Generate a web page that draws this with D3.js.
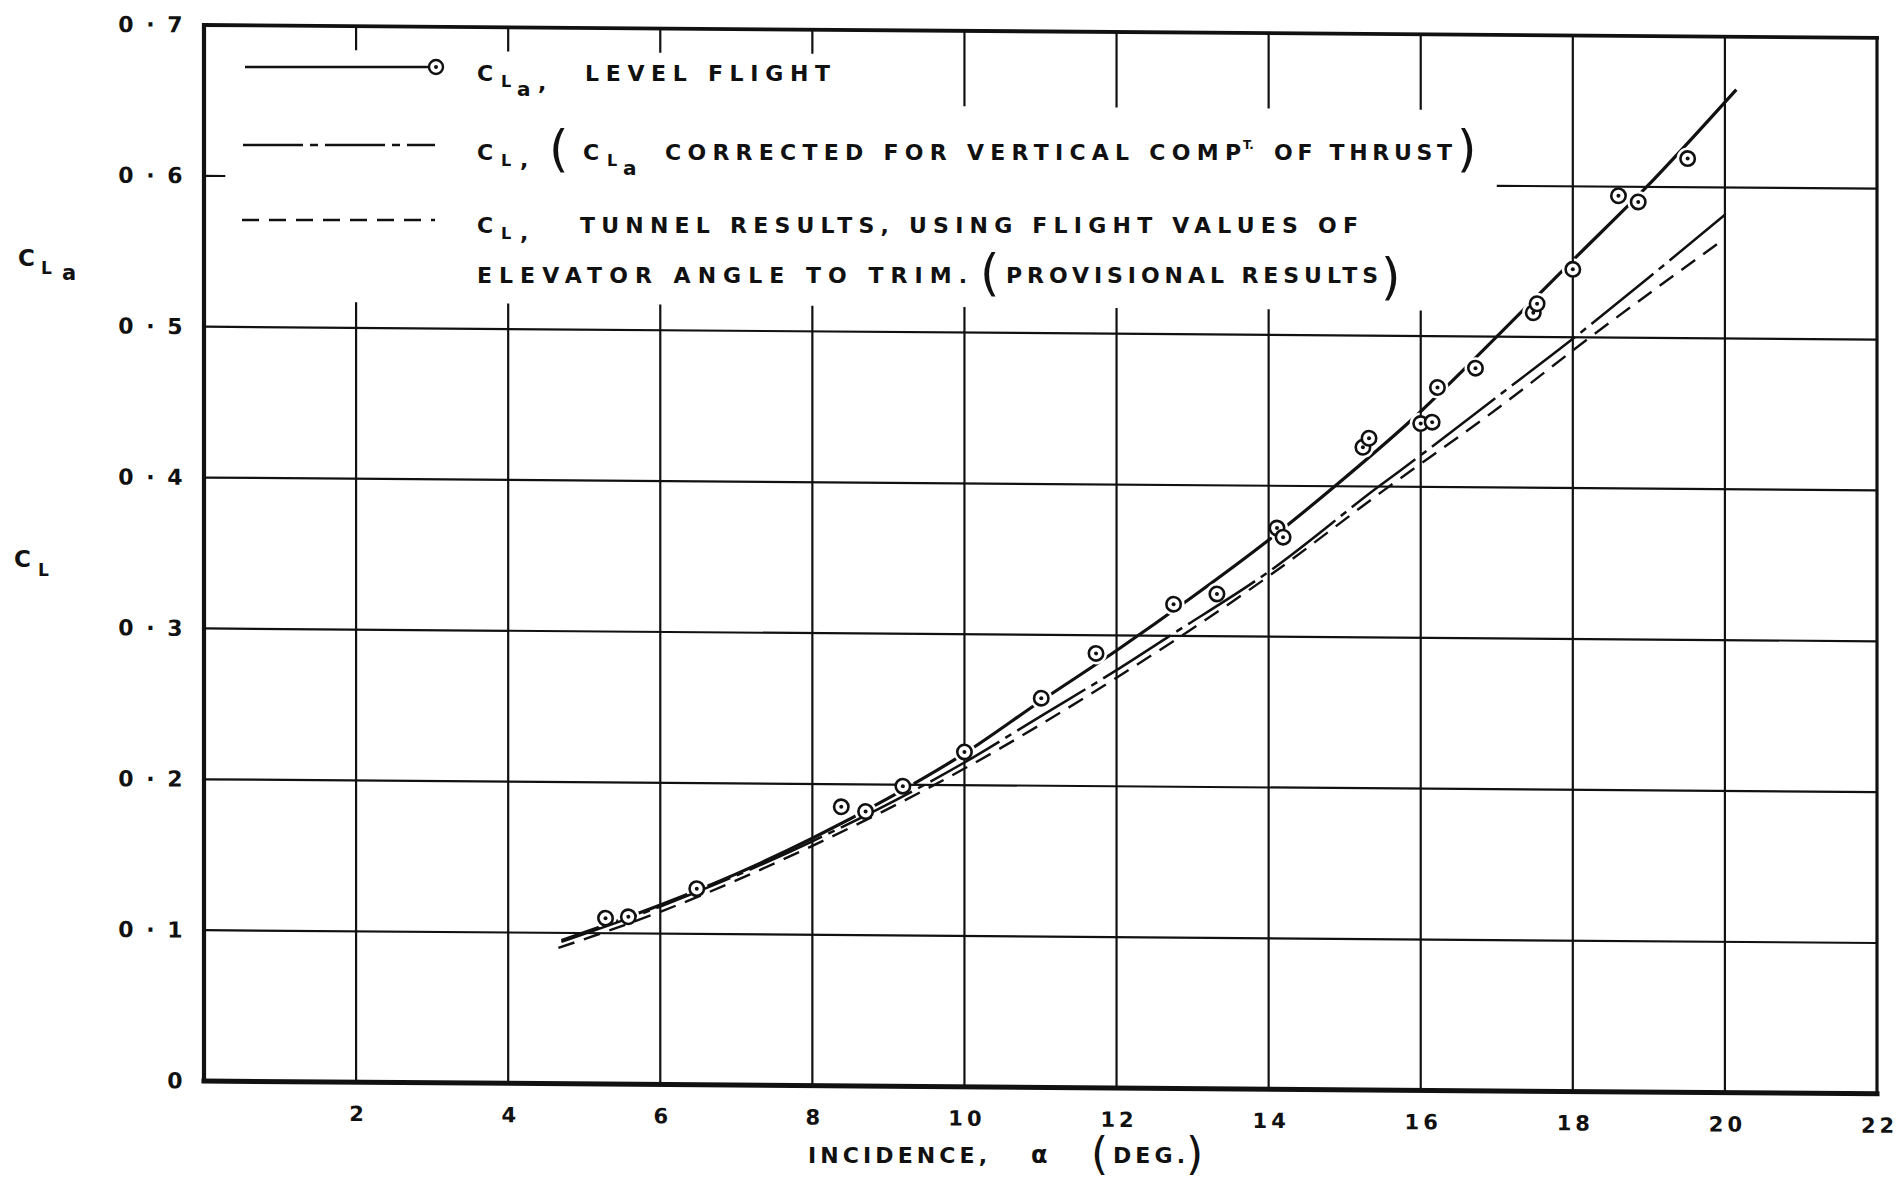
<!DOCTYPE html>
<html lang="en">
<head>
<meta charset="UTF-8">
<title>Lift coefficient against incidence</title>
<style>
  * { margin: 0; padding: 0; }
  body { background: #fff; }
  svg { display: block; }
  text { font-family: 'DejaVu Sans', sans-serif; fill: #111; }
  .lt { font-weight: bold; }
  .paren { font-weight: normal; }
</style>
<script src="https://cdn.jsdelivr.net/npm/d3@7/dist/d3.min.js"></script>
</head>
<body>
<svg id="chart" width="1898" height="1179"></svg>
<script>
// values (incidence in deg, lift coefficient)
const flightAlpha = [5.28, 5.58, 6.48, 8.38, 8.70, 9.19, 10.0, 11.01, 11.73, 12.75, 13.32, 14.11, 14.19,
                     15.24, 15.32, 16.0, 16.15, 16.22, 16.72, 17.48, 17.53, 18.0, 18.6, 18.86, 19.51];
const flightCLa = [0.110, 0.111, 0.130, 0.185, 0.182, 0.199, 0.222, 0.258, 0.288, 0.321, 0.328, 0.372, 0.366,
                   0.426, 0.432, 0.442, 0.443, 0.466, 0.479, 0.516, 0.522, 0.545, 0.594, 0.590, 0.619];

// faired curve through the flight points
const levelAlpha = [4.7, 6, 7, 8, 9, 10, 11, 12, 13, 14, 14.87, 16, 17, 18, 18.97, 20.15];
const levelCLa   = [0.095, 0.119, 0.140, 0.164, 0.191, 0.221, 0.256, 0.290, 0.326, 0.364, 0.400, 0.450, 0.500, 0.551, 0.600, 0.665];

// CLa corrected for vertical component of thrust
const corrAlpha = [4.7, 6, 8, 10, 11, 12, 12.7, 14, 15.42, 16, 17, 18, 19, 20];
const corrCL    = [0.094, 0.118, 0.162, 0.215, 0.246, 0.277, 0.300, 0.343, 0.399, 0.421, 0.460, 0.499, 0.540, 0.582];

// tunnel results (provisional)
const tunnelAlpha = [4.66, 6, 8, 10, 12, 14, 15.5, 17, 18.2, 19.94];
const tunnelCL    = [0.090, 0.1145, 0.159, 0.211, 0.272, 0.340, 0.397, 0.452, 0.499, 0.564];

const xTicks = [2, 4, 6, 8, 10, 12, 14, 16, 18, 20, 22];
const yTicks = [0, 0.1, 0.2, 0.3, 0.4, 0.5, 0.6, 0.7];

const svg = d3.select('#chart');
const x = d3.scaleLinear().domain([0, 22]).range([204, 1877]);
const y = d3.scaleLinear().domain([0, 0.7]).range([1081, 25]);

// the scanned sheet is slightly sheared, right side sits lower
const plot = svg.append('g')
  .attr('transform', `translate(${x(0)},0) skewY(0.44) translate(${-x(0)},0)`);

// grid (broken where the key sits)
const vSegs = [];
xTicks.filter(d => d < 22).forEach(d => {
  const parts = d <= 8 ? [[0, 0.517], [0.684, 0.7]] : d <= 16 ? [[0, 0.517], [0.65, 0.7]] : [[0, 0.7]];
  parts.forEach(p => vSegs.push({ x0: d, x1: d, y0: p[0], y1: p[1] }));
});
const hSegs = [];
yTicks.filter(d => d > 0 && d < 0.7).forEach(d => {
  const parts = d > 0.55 ? [[0, 0.28], [17.0, 22]] : [[0, 22]];
  parts.forEach(p => hSegs.push({ x0: p[0], x1: p[1], y0: d, y1: d }));
});
plot.append('g').attr('stroke', '#111').attr('stroke-width', 2.2)
  .selectAll('line').data(vSegs.concat(hSegs)).join('line')
  .attr('x1', d => x(d.x0)).attr('x2', d => x(d.x1))
  .attr('y1', d => y(d.y0)).attr('y2', d => y(d.y1));

// frame
const frame = [
  { x0: 0, y0: 0, x1: 0, y1: 0.7, w: 4.2 },
  { x0: 0, y0: 0, x1: 22, y1: 0, w: 5 },
  { x0: 0, y0: 0.7, x1: 22, y1: 0.7, w: 3.8 },
  { x0: 22, y0: 0, x1: 22, y1: 0.7, w: 3.2 }
];
plot.append('g').attr('stroke', '#111').attr('stroke-linecap', 'square')
  .selectAll('line').data(frame).join('line')
  .attr('x1', d => x(d.x0)).attr('x2', d => x(d.x1))
  .attr('y1', d => y(d.y0)).attr('y2', d => y(d.y1))
  .attr('stroke-width', d => d.w);

// tick labels
plot.append('g').attr('transform', `translate(0,${y(0)})`)
  .call(d3.axisBottom(x).tickValues(xTicks).tickSize(0).tickPadding(24).tickFormat(d3.format('d')))
  .call(g => g.select('.domain').remove())
  .attr('font-family', null).attr('font-size', 21)
  .selectAll('text').attr('class', 'lt').attr('letter-spacing', 4).attr('dx', 2);

plot.append('g').attr('transform', `translate(${x(0)},0)`)
  .call(d3.axisLeft(y).tickValues(yTicks).tickSize(0).tickPadding(19)
    .tickFormat(d => d === 0 ? '0' : '0 \u00b7 ' + Math.round(d * 10)))
  .call(g => g.select('.domain').remove())
  .attr('font-family', null).attr('font-size', 22)
  .selectAll('text').attr('class', 'lt').attr('letter-spacing', 2.5);

// curves
const line = d3.line().x(d => x(d[0])).y(d => y(d[1])).curve(d3.curveMonotoneX);
const flightPts = d3.zip(flightAlpha, flightCLa);

const defs = svg.append('defs');
const mask = defs.append('mask').attr('id', 'gaps')
  .attr('maskUnits', 'userSpaceOnUse').attr('x', -50).attr('y', -50).attr('width', 2000).attr('height', 1300);
mask.append('rect').attr('x', -50).attr('y', -50).attr('width', 2000).attr('height', 1300).attr('fill', '#fff');
mask.selectAll('circle').data(flightPts).join('circle')
  .attr('cx', d => x(d[0])).attr('cy', d => y(d[1])).attr('r', 11).attr('fill', '#000');

plot.append('path').datum(d3.zip(tunnelAlpha, tunnelCL))
  .attr('d', line).attr('fill', 'none').attr('stroke', '#111').attr('stroke-width', 2.4)
  .attr('stroke-dasharray', '17,10');
plot.append('path').datum(d3.zip(corrAlpha, corrCL))
  .attr('d', line).attr('fill', 'none').attr('stroke', '#111').attr('stroke-width', 2.5)
  .attr('stroke-dasharray', '80,7,7,7');
plot.append('path').datum(d3.zip(levelAlpha, levelCLa))
  .attr('d', line).attr('fill', 'none').attr('stroke', '#111').attr('stroke-width', 3.2)
  .attr('mask', 'url(#gaps)');

// flight points
const mk = plot.append('g').selectAll('g').data(flightPts).join('g')
  .attr('transform', d => `translate(${x(d[0])},${y(d[1])})`);
mk.append('circle').attr('r', 7.2).attr('fill', '#fff').attr('stroke', '#111').attr('stroke-width', 2.6);
mk.append('circle').attr('r', 2).attr('fill', '#111');

// text helpers
function txt(str, px, py, size, len) {
  const t = svg.append('text').attr('class', 'lt').attr('x', px).attr('y', py)
    .attr('font-size', size).text(str);
  if (len) t.attr('textLength', len).attr('lengthAdjust', 'spacing');
  return t;
}
function paren(str, px, py, size) {
  return svg.append('text').attr('class', 'paren').attr('x', px).attr('y', py)
    .attr('font-size', size || 50).text(str);
}
function cL(px, py, withA) {
  txt('C', px, py, 22);
  txt('L', px + 24, py + 6, 16);
  if (withA) txt('a', px + 40, py + 15, 20);
}

// key
const key = svg.append('g').attr('stroke', '#111').attr('fill', 'none');
key.append('line').attr('x1', 245).attr('x2', 428).attr('y1', 67).attr('y2', 67).attr('stroke-width', 2.6);
key.append('circle').attr('cx', 436).attr('cy', 67).attr('r', 7).attr('fill', '#fff').attr('stroke-width', 2.4);
key.append('circle').attr('cx', 436).attr('cy', 67).attr('r', 2).attr('fill', '#111').attr('stroke', 'none');
key.append('line').attr('x1', 243).attr('x2', 435).attr('y1', 145).attr('y2', 145).attr('stroke-width', 2.5)
  .attr('stroke-dasharray', '60,7,8,7');
key.append('line').attr('x1', 242).attr('x2', 435).attr('y1', 220).attr('y2', 220).attr('stroke-width', 2.4)
  .attr('stroke-dasharray', '17,10');

cL(477, 81, true);
txt(',', 538, 90, 22);
txt('LEVEL FLIGHT', 585, 81, 22, 245);

cL(477, 160, false);
txt(',', 520, 167, 22);
paren('(', 549, 166);
cL(583, 160, true);
txt('CORRECTED FOR VERTICAL COMP', 665, 160, 22, 576);
txt('T.', 1243, 149, 12);
txt('OF THRUST', 1274, 160, 22, 178);
paren(')', 1457, 166);

cL(477, 233, false);
txt(',', 520, 240, 22);
txt('TUNNEL RESULTS, USING FLIGHT VALUES OF', 580, 233, 22, 778);

txt('ELEVATOR ANGLE TO TRIM.', 477, 283, 22, 490);
paren('(', 980, 290);
txt('PROVISIONAL RESULTS', 1006, 283, 22, 372);
paren(')', 1381, 294);

// axis titles
txt('C', 18, 266, 23);
txt('L', 41, 274, 17);
txt('a', 62, 280, 21);
txt('C', 14, 567, 23);
txt('L', 38, 576, 17);

txt('INCIDENCE,', 808, 1163, 22, 179);
txt('\u03b1', 1031, 1163, 24);
paren('(', 1091, 1169, 44);
txt('DEG.', 1113, 1163, 22, 72);
paren(')', 1186, 1169, 44);
</script>
</body>
</html>
